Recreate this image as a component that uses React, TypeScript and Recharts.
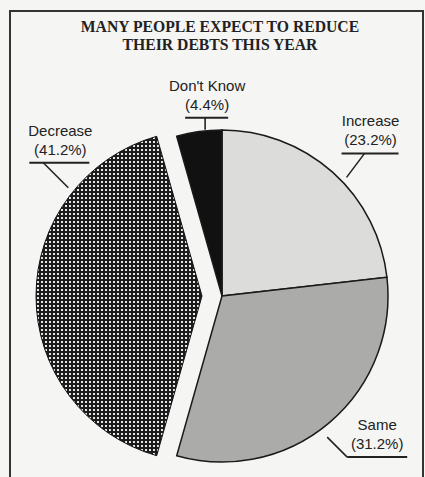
import React from 'react';
import { PieChart, Pie, Cell } from 'recharts';

// survey answers
const categories = ['Increase', 'Same', 'Decrease', "Don't Know"];
const shares = [23.2, 31.2, 41.2, 4.4];
const titleLines = ['MANY PEOPLE EXPECT TO REDUCE', 'THEIR DEBTS THIS YEAR'];

const data = categories.map((name, i) => ({ name, value: shares[i] }));

const FILLS: Record<string, string> = {
  Increase: '#dcdcda',
  Same: '#ababa9',
  Decrease: 'url(#dots)',
  "Don't Know": '#111111',
};

// pulled-out slice, px
const EXPLODE: Record<string, number> = { Decrease: 20 };

// leader start (angle/radius from the slice centre), elbow offset, underline extent, text offset
const LABEL_LAYOUT: Record<string, { angle: number; r: number; ex: number; ey: number; left: number; right: number; dx: number }> = {
  Increase: { angle: 43.6, r: 172, ex: 18, ey: -24, left: 23, right: 34, dx: 6 },
  Same: { angle: -53.3, r: 176, ex: 20, ey: 20, left: 0, right: 60, dx: 30 },
  Decrease: { angle: 141, r: 172, ex: -25, ey: -25, left: 14, right: 46, dx: 17 },
  "Don't Know": { angle: 95.8, r: 167, ex: 0, ey: -12, left: 20, right: 23, dx: 2 },
};

const CX = 222;
const CY = 296;
const R = 166;
const RAD = Math.PI / 180;

const polar = (cx: number, cy: number, r: number, angle: number) => [
  cx + r * Math.cos(-angle * RAD),
  cy + r * Math.sin(-angle * RAD),
];

// mid angle of the exploded slice, to know which way to push it
const total = shares.reduce((a, b) => a + b, 0);
const explodedName = 'Decrease';
const before = shares.slice(0, categories.indexOf(explodedName)).reduce((a, b) => a + b, 0);
const midAngle = 90 - (360 * (before + shares[categories.indexOf(explodedName)] / 2)) / total;
const [shiftX, shiftY] = polar(0, 0, EXPLODE[explodedName], midAngle);

const renderLabel = (exploded: boolean) => (props: any) => {
  const { cx, cy, name, value } = props;
  if (!!EXPLODE[name] !== exploded) return null;
  const l = LABEL_LAYOUT[name];
  const [x1, y1] = polar(cx, cy, l.r, l.angle);
  const x2 = x1 + l.ex;
  const y2 = y1 + l.ey;
  const tx = x2 + l.dx;
  const textStyle = { fontFamily: '"Liberation Sans", Arial, sans-serif', fontSize: 15, fill: '#222' };
  return (
    <g>
      <line x1={x1} y1={y1} x2={x2} y2={y2} stroke="#222" strokeWidth={1.6} />
      <line x1={x2 - l.left} y1={y2} x2={x2 + l.right} y2={y2} stroke="#222" strokeWidth={2} />
      <text x={tx} y={y2 - 27} textAnchor="middle" style={textStyle}>{name}</text>
      <text x={tx} y={y2 - 8} textAnchor="middle" style={textStyle}>{`(${value.toFixed(1)}%)`}</text>
    </g>
  );
};

export default function App() {
  return (
    <div style={{ position: 'absolute', left: 0, top: 0, width: 425, height: 477, background: '#f5f5f3', overflow: 'hidden' }}>
      <svg width={0} height={0} style={{ position: 'absolute' }}>
        <defs>
          <pattern id="dots" width={4} height={4} patternUnits="userSpaceOnUse">
            <rect width={4} height={4} fill="#1c1c1c" />
            <rect x={1} y={1} width={2} height={2} fill="#e6e6e6" />
          </pattern>
        </defs>
      </svg>
      <div
        style={{
          position: 'absolute', left: 9, top: 10, width: 411, height: 480,
          borderTop: '2px solid #333', borderLeft: '2px solid #333', borderRight: '2px solid #333',
        }}
      />
      <div
        style={{
          position: 'absolute', left: 0, top: 18, width: 440, textAlign: 'center',
          fontFamily: '"Liberation Serif", "Times New Roman", serif', fontWeight: 'bold',
          fontSize: 15.7, lineHeight: '18px', color: '#222',
        }}
      >
        {titleLines.map((t) => <div key={t}>{t}</div>)}
      </div>
      <div style={{ position: 'absolute', left: 0, top: 0 }}>
        <PieChart width={425} height={477} margin={{ top: 0, right: 0, bottom: 0, left: 0 }}>
          <Pie
            data={data}
            dataKey="value"
            nameKey="name"
            cx={CX}
            cy={CY}
            outerRadius={R}
            startAngle={90}
            endAngle={-270}
            stroke="#1a1a1a"
            strokeWidth={1.5}
            label={renderLabel(false)}
            labelLine={false}
            isAnimationActive={false}
          >
            {data.map((d) => (
              <Cell key={d.name} fill={EXPLODE[d.name] ? 'none' : FILLS[d.name]} stroke={EXPLODE[d.name] ? 'none' : '#1a1a1a'} />
            ))}
          </Pie>
          <Pie
            data={data}
            dataKey="value"
            nameKey="name"
            cx={CX + shiftX}
            cy={CY + shiftY}
            outerRadius={R}
            startAngle={90}
            endAngle={-270}
            label={renderLabel(true)}
            labelLine={false}
            isAnimationActive={false}
          >
            {data.map((d) => (
              <Cell key={d.name} fill={EXPLODE[d.name] ? FILLS[d.name] : 'none'} stroke={EXPLODE[d.name] ? '#111' : 'none'} strokeWidth={1} />
            ))}
          </Pie>
        </PieChart>
      </div>
    </div>
  );
}
